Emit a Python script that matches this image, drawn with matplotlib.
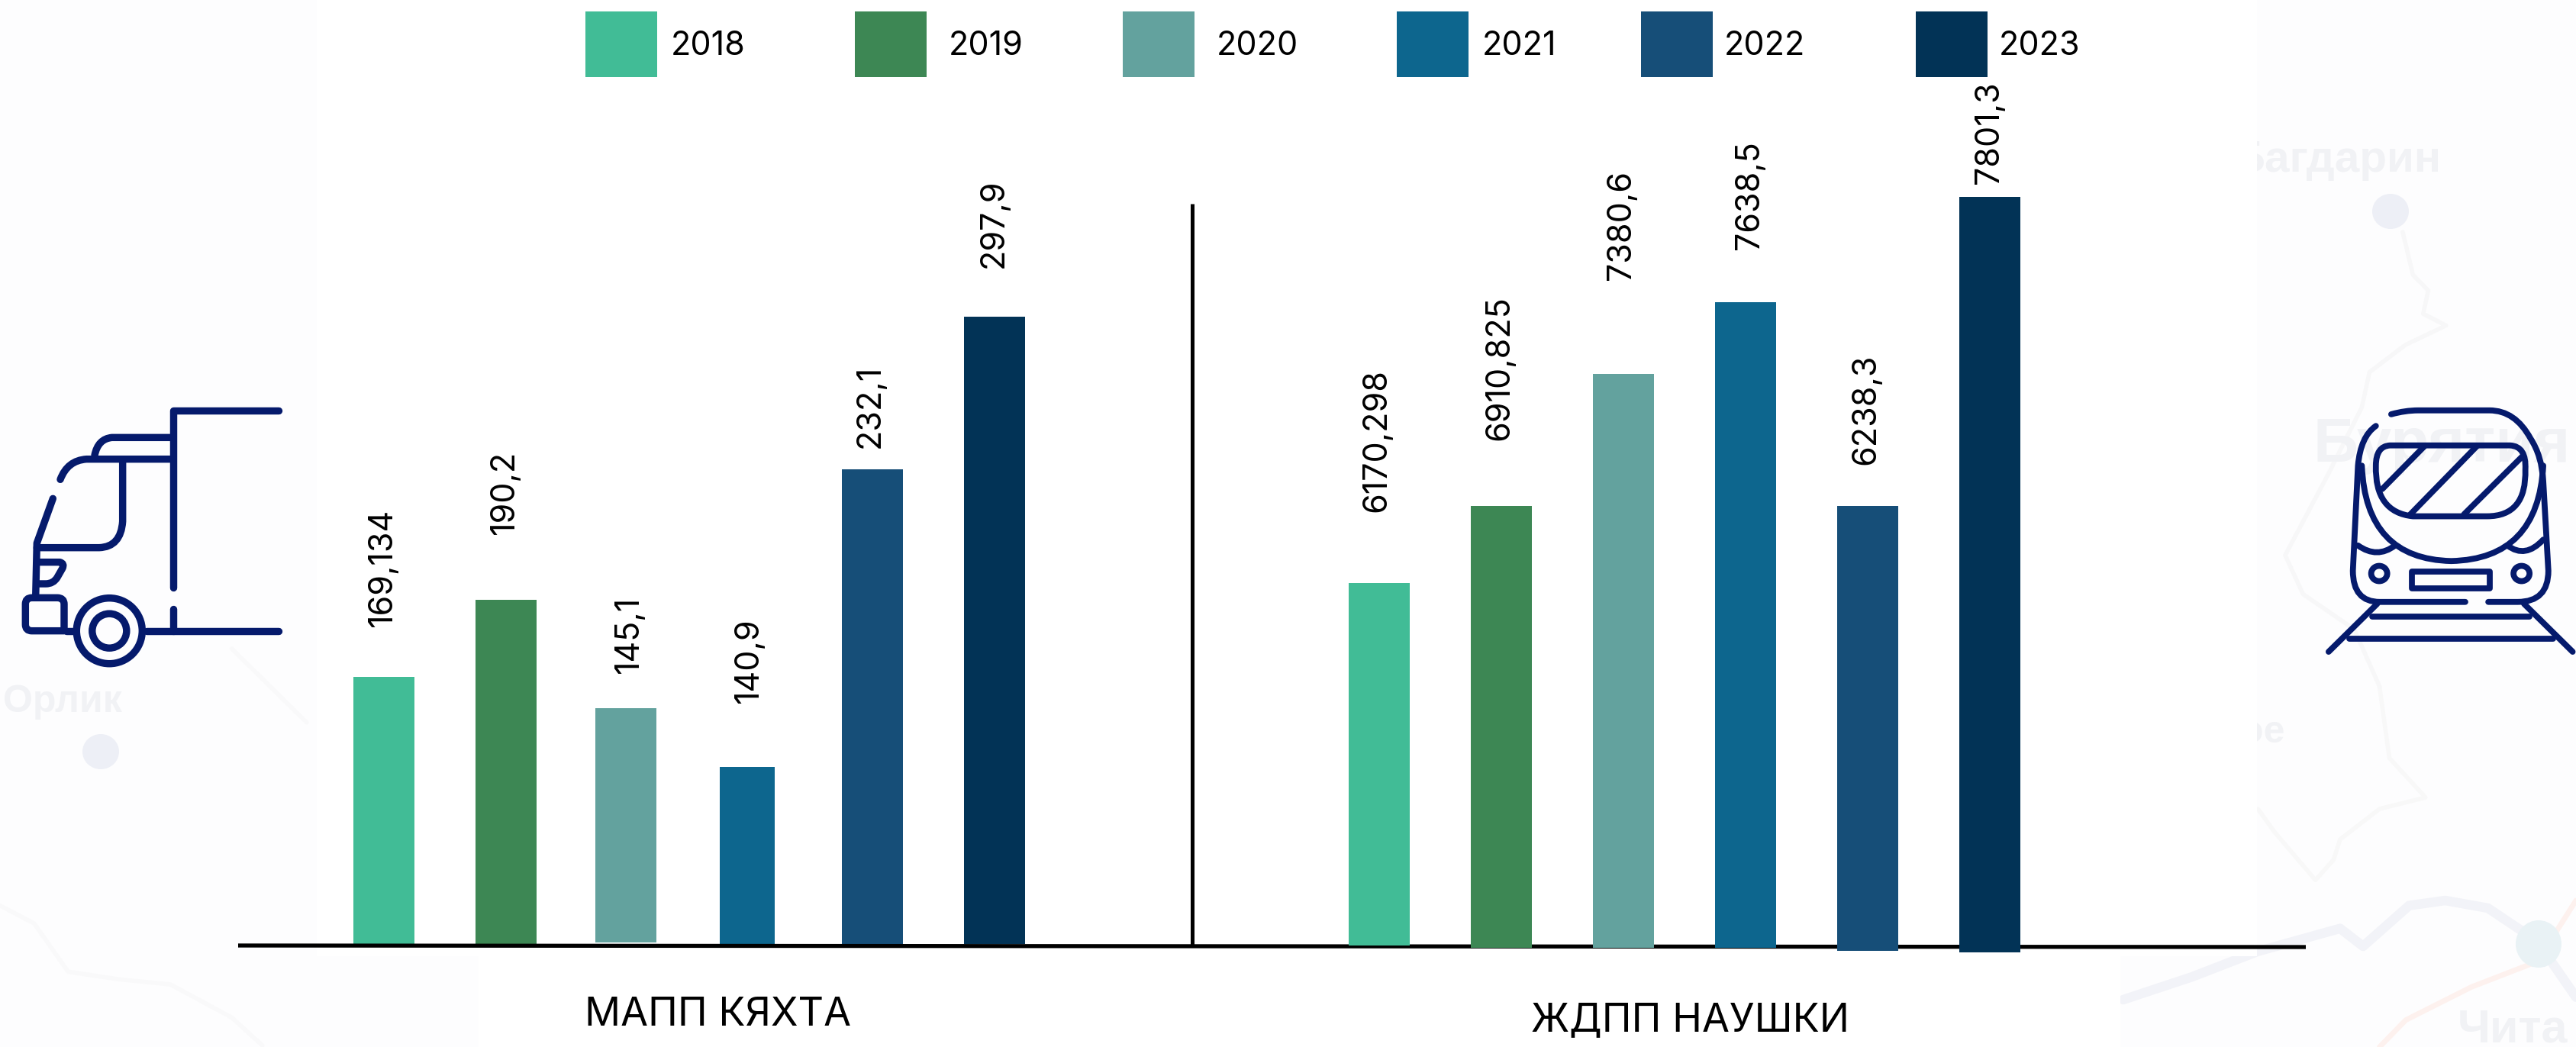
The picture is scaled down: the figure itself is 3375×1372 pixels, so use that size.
import re
import matplotlib
matplotlib.use("Agg")
import matplotlib.pyplot as plt
from matplotlib.patches import Ellipse, PathPatch, Rectangle
from matplotlib.path import Path

years = ["2018", "2019", "2020", "2021", "2022", "2023"]
colors = ["#41BC96", "#3D8754", "#63A29E", "#0D668E", "#164E78", "#023356"]

# values as printed over the bars
kyakhta_labels = ["169,134", "190,2", "145,1", "140,9", "232,1", "297,9"]
naushki_labels = ["6170,298", "6910,825", "7380,6", "7638,5", "6238,3", "7801,3"]

# bar tops and bottoms (bars are not to a common scale)
kyakhta_tops = [887, 786, 928, 1005, 615, 415]
kyakhta_bottoms = [1237, 1237, 1235, 1237, 1237, 1237]
naushki_tops = [764, 663, 490, 396, 663, 258]
naushki_bottoms = [1239, 1242, 1242, 1242, 1246, 1248]

kyakhta_x = [503, 663, 820, 979, 1143, 1303]
kyakhta_w = [80, 80, 80, 72, 80, 80]
naushki_x = [1807, 1967, 2127, 2287, 2447, 2607]
bar_w = 80

kyakhta_label_x = [501, 661, 824, 981, 1140, 1302]
kyakhta_label_y = [821, 700, 882, 921, 587, 351]
naushki_label_x = [1804, 1965, 2125, 2293, 2445, 2606]
naushki_label_y = [671, 577, 367, 327, 609, 241]

legend_x = [767, 1120, 1471, 1830, 2150, 2510]
legend_text_x = [879, 1243, 1594, 1942, 2259, 2619]

FONT = "Inter"
MAP_FONT = "Liberation Sans"
ICON = "#051A6C"
FAINT = "#F1F2F5"

fig = plt.figure(figsize=(33.75, 13.72), dpi=100, facecolor="#FDFDFE")
ax = fig.add_axes([0, 0, 1, 1])
ax.set_xlim(0, 3375)
ax.set_ylim(1372, 0)
ax.axis("off")


def svg(d, sx, sy, ox, oy):
    # tiny M/L/Q/Z path reader, coordinates as in the zoomed crops
    verts, codes = [], []
    for cmd, args in re.findall(r"([MLQZ])([^MLQZ]*)", d):
        nums = [float(n) for n in args.split()]
        pts = [(ox + nums[i] / sx, oy + nums[i + 1] / sy) for i in range(0, len(nums), 2)]
        if cmd == "M":
            verts += pts
            codes += [Path.MOVETO]
        elif cmd == "L":
            verts += pts
            codes += [Path.LINETO]
        elif cmd == "Q":
            verts += pts
            codes += [Path.CURVE3, Path.CURVE3]
        else:
            verts += [verts[-1]]
            codes += [Path.CLOSEPOLY]
    return Path(verts, codes)


def stroke(d, sx, sy, ox, oy, color=ICON, lw=6.8, z=6):
    ax.add_patch(PathPatch(svg(d, sx, sy, ox, oy), fc="none", ec=color, lw=lw,
                           capstyle="round", joinstyle="round", zorder=z))


# faint map behind the white panels
for d, c, lw in [
    ("M 190 1230 L 400 1140 L 600 1040 L 850 950 L 920 1020 L 1060 860 L 1170 840 L 1300 870 L 1450 1000 L 1568 1220", "#F2F3F8", 9),
    ("M 970 1416 L 1050 1310 L 1250 1180 L 1450 1080 L 1568 840", "#FDF1EE", 5),
    ("M 970 0 L 1000 280 L 1110 435 L 970 480 L 850 600 L 830 680 L 775 760 L 650 570 L 600 480", "#F8F8F8", 4),
]:
    stroke(d, 2.323, 3, 2700, 900, color=c, lw=lw, z=1)
stroke("M 890 400 L 930 510 L 990 550 L 970 610 L 1060 640 L 900 690 L 760 760 L 730 850 L 600 1020 L 430 1230 L 500 1330 L 700 1420 L 800 1568",
       2.987, 1.96, 2850, 100, color="#F7F7F8", lw=4, z=1)
stroke("M 0 1010 L 100 1080 L 200 1270 L 350 1300 L 500 1320 L 680 1450 L 770 1560",
       2.24, 3, 0, 850, color="#F9F9FA", lw=4, z=1)
stroke("M 680 0 L 900 290", 2.24, 3, 0, 850, color="#F9F9FA", lw=4, z=1)
ax.add_patch(Ellipse((132, 985), 48, 46, fc="#EDEFF6", zorder=1))
ax.add_patch(Ellipse((3132, 277), 48, 46, fc="#EDEFF6", zorder=1))
ax.add_patch(Ellipse((3326, 1237), 60, 62, fc="#E9F2F5", zorder=1))
for x, y, s, size in [(4, 920, "Орлик", 36), (2925, 210, "Багдарин", 42), (3030, 584, "Бурятия", 59),
                      (2935, 960, "ое", 36), (3220, 1350, "Чита", 44), (2905, 584, "н", 58)]:
    ax.text(x, y, s, fontsize=size, family=MAP_FONT, weight="bold", color=FAINT, va="center", zorder=1)

# white panels under the chart
ax.add_patch(Rectangle((415, 0), 2542, 1253, fc="white", ec="none", zorder=2))
ax.add_patch(Rectangle((627, 1253), 2151, 119, fc="white", ec="none", zorder=2))

# bars
ax.bar(kyakhta_x, [b - t for t, b in zip(kyakhta_tops, kyakhta_bottoms)], bottom=kyakhta_tops,
       width=kyakhta_w, color=colors, zorder=3)
ax.bar(naushki_x, [b - t for t, b in zip(naushki_tops, naushki_bottoms)], bottom=naushki_tops,
       width=bar_w, color=colors, zorder=5)

# baseline and divider
ax.plot([312, 3021], [1239, 1241], color="black", lw=3.8, solid_capstyle="butt", zorder=4)
ax.plot([1562, 1562], [267, 1238], color="black", lw=3.6, solid_capstyle="butt", zorder=4)

# value labels
for labels, lx, ly in [(kyakhta_labels, kyakhta_label_x, kyakhta_label_y),
                       (naushki_labels, naushki_label_x, naushki_label_y)]:
    for s, x, y in zip(labels, lx, ly):
        ax.text(x, y, s, rotation=90, ha="center", va="bottom", fontsize=31, family=FONT, color="black", zorder=7)

# legend
for x, tx, year, c in zip(legend_x, legend_text_x, years, colors):
    ax.add_patch(Rectangle((x, 15), 94, 86, fc=c, ec="none", zorder=3))
    ax.text(tx, 60, year, ha="left", va="center", fontsize=31, family=FONT, color="black", zorder=7)

# group names
ax.text(941, 1330, "МАПП КЯХТА", ha="center", va="center", fontsize=37.5, family=FONT, color="black", zorder=7)
ax.text(2214, 1338, "ЖДПП НАУШКИ", ha="center", va="center", fontsize=37.5, family=FONT, color="black", zorder=7)

# truck icon
T = (3, 3, 0, 450)
for d in [
    "M 1095 265 L 680 265 L 680 960",
    "M 680 1045 L 680 1130",
    "M 1095 1130 L 575 1130",
    "M 290 1130 L 260 1130",
    "M 680 370 L 440 370 Q 385 375 372 440",
    "M 680 455 L 340 455 Q 265 460 237 535",
    "M 482 455 L 482 700 Q 475 800 390 803 L 145 803",
    "M 208 610 L 145 785 L 140 1000",
    "M 150 860 L 235 860 Q 255 865 245 885 L 225 920 Q 210 945 180 945 L 145 945",
    "M 125 1000 L 225 1000 Q 252 1000 252 1025 L 252 1130 L 125 1130 Q 100 1130 100 1105 L 100 1025 Q 100 1000 125 1000 Z",
]:
    stroke(d, *T)
ax.add_patch(Ellipse((143.3, 826.7), 86, 86, fc="none", ec=ICON, lw=6.8, zorder=6))
ax.add_patch(Ellipse((143.3, 826.7), 45, 45, fc="none", ec=ICON, lw=6.8, zorder=6))

# train icon
R = (2.987, 1.96, 2850, 100)
for d in [
    "M 845 868 Q 900 858 950 858 L 1230 858 Q 1330 858 1390 930 Q 1435 975 1440 1040 L 1460 1270 Q 1460 1350 1340 1350 L 1225 1350",
    "M 785 898 Q 725 925 715 1000 L 695 1270 Q 695 1350 800 1350 L 1135 1350",
    "M 840 948 L 1310 948 Q 1375 950 1370 1010 Q 1375 1130 1220 1130 L 930 1130 Q 780 1120 785 1000 Q 785 950 840 948 Z",
    "M 810 1060 L 975 950",
    "M 920 1125 L 1180 950",
    "M 1130 1125 L 1360 975",
    "M 730 1000 Q 745 1240 1080 1245 Q 1420 1240 1440 1000",
    "M 715 1205 Q 790 1240 860 1205",
    "M 1300 1205 Q 1370 1240 1440 1190",
    "M 925 1273 L 1230 1273 L 1230 1315 L 925 1315 Z",
    "M 600 1478 L 790 1355",
    "M 1555 1478 L 1365 1355",
    "M 770 1388 L 1385 1388",
    "M 680 1445 L 1480 1445",
]:
    stroke(d, *R, lw=5.6)
for cx in [798, 1355]:
    ax.add_patch(Ellipse((2850 + cx / 2.987, 100 + 1277 / 1.96), 21, 20, fc="none", ec=ICON, lw=5.6, zorder=6))

fig.savefig("out.png", dpi=100, facecolor=fig.get_facecolor())
